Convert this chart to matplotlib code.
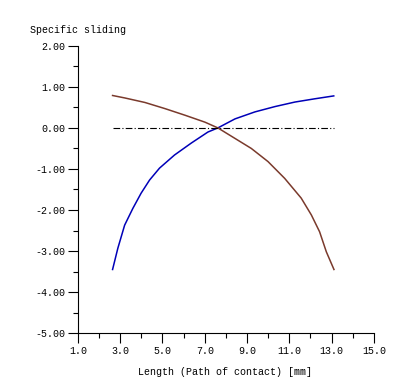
import numpy as np
import matplotlib.pyplot as plt
from matplotlib.ticker import MultipleLocator, FormatStrFormatter

# values
len_pinion = [2.64, 2.89, 3.21, 3.60, 3.99, 4.39, 4.86, 5.57, 6.36,
              7.15, 7.62, 8.43, 9.37, 10.32, 11.26, 12.21, 13.10]
slide_pinion = [-3.45, -2.93, -2.37, -1.96, -1.59, -1.27, -0.98, -0.66, -0.37,
                -0.10, 0.0, 0.22, 0.39, 0.52, 0.63, 0.71, 0.78]

len_gear = [2.64, 3.22, 4.17, 5.12, 6.06, 7.01, 7.62, 8.41, 9.20, 9.99,
            10.78, 11.56, 12.04, 12.43, 12.75, 13.11]
slide_gear = [0.79, 0.73, 0.62, 0.47, 0.31, 0.14, 0.0, -0.25, -0.50, -0.82,
              -1.23, -1.71, -2.12, -2.53, -3.02, -3.45]

zero_x = [2.64, 13.1]
zero_y = [0.0, 0.0]

plt.rcParams['font.family'] = ['Liberation Mono', 'DejaVu Sans Mono']
plt.rcParams['font.size'] = 7.2

fig = plt.figure(figsize=(4.1, 3.82), dpi=100)
ax = fig.add_axes([0.190, 0.128, 0.722, 0.752])

ax.plot(len_pinion, slide_pinion, color='#0000b8', lw=1.1)
ax.plot(len_gear, slide_gear, color='#7a3a2c', lw=1.1)
ax.plot(zero_x, zero_y, color='black', lw=0.8, ls=(0, (6, 2, 1, 2)))

ax.set_xlim(1.0, 15.0)
ax.set_ylim(-5.0, 2.0)
ax.xaxis.set_major_locator(MultipleLocator(2.0, offset=1.0))
ax.xaxis.set_minor_locator(MultipleLocator(1.0))
ax.yaxis.set_major_locator(MultipleLocator(1.0))
ax.yaxis.set_minor_locator(MultipleLocator(0.5))
ax.xaxis.set_major_formatter(FormatStrFormatter('%.1f'))
ax.yaxis.set_major_formatter(FormatStrFormatter('%.2f'))

for s in ['top', 'right']:
    ax.spines[s].set_visible(False)
for s in ['left', 'bottom']:
    ax.spines[s].set_linewidth(0.8)

ax.tick_params(which='major', direction='out', length=7, width=0.8, pad=2)
ax.tick_params(which='minor', direction='out', length=3.5, width=0.8)

fig.text(0.073, 0.922, 'Specific sliding', ha='left', va='center')
fig.text(0.55, 0.026, 'Length (Path of contact) [mm]', ha='center', va='center')

fig.savefig('out.png', dpi=100)
